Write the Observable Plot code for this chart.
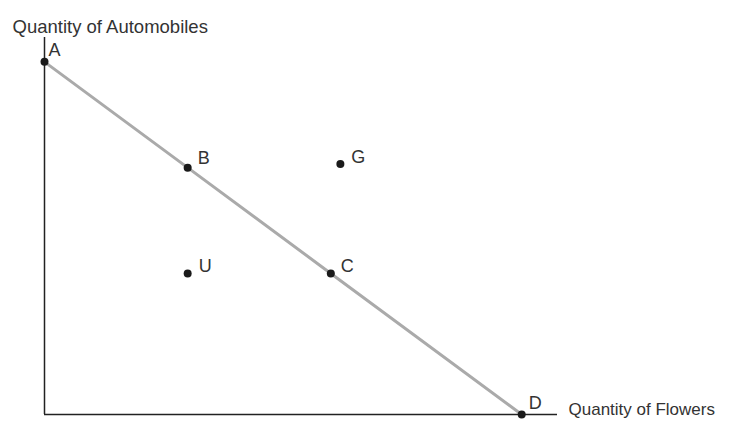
<!DOCTYPE html>
<html>
<head>
<meta charset="utf-8">
<script src="https://cdn.jsdelivr.net/npm/d3@7"></script>
<script src="https://cdn.jsdelivr.net/npm/@observablehq/plot@0.6"></script>
<style>
  html, body { margin: 0; padding: 0; background: #fff; }
  #chart svg { display: block; }
</style>
</head>
<body>
<div id="chart"></div>
<script>
// Production possibilities frontier points (abstract units)
const frontierLabels = ["A", "B", "C", "D"];
const frontierX = [0, 30, 60, 100];     // Quantity of Flowers
const frontierY = [100, 70, 40, 0];     // Quantity of Automobiles

const otherLabels = ["G", "U"];
const otherX = [62, 30];
const otherY = [71, 40];

const xTitle = "Quantity of Flowers";
const yTitle = "Quantity of Automobiles";

const frontier = frontierLabels.map((l, i) => ({label: l, x: frontierX[i], y: frontierY[i]}));
const others = otherLabels.map((l, i) => ({label: l, x: otherX[i], y: otherY[i]}));
const allPts = frontier.concat(others);

// label offsets (style only)
const off = {A: [4, -12], B: [10, -9], C: [10, -7], D: [7, -11], G: [11, -7], U: [11, -7]};

const font = "'Liberation Sans', Arial, Helvetica, sans-serif";
const ink = "#222";

const chart = Plot.plot({
  width: 729,
  height: 424,
  marginLeft: 44,
  marginRight: 172,
  marginTop: 37,
  marginBottom: 10,
  x: {domain: [0, 107.5], axis: null},
  y: {domain: [0, 106.9], axis: null},
  style: {fontFamily: font, background: "#fff"},
  marks: [
    Plot.line(frontier, {x: "x", y: "y", stroke: "#aaaaaa", strokeWidth: 3}),
    Plot.ruleX([0], {stroke: ink, strokeWidth: 1.5}),
    Plot.ruleY([0], {stroke: ink, strokeWidth: 1.5}),
    Plot.dot(allPts, {x: "x", y: "y", r: 4, fill: "#1a1a1a", stroke: "none"}),
    ...allPts.map(p => Plot.text([p], {
      x: "x", y: "y", text: "label",
      dx: off[p.label][0], dy: off[p.label][1],
      textAnchor: "start", fontSize: 18, fill: "#333"
    })),
    Plot.text([yTitle], {frameAnchor: "top-left", dx: -32, dy: -18, textAnchor: "start", fontSize: 18.5, fill: "#333"}),
    Plot.text([xTitle], {frameAnchor: "bottom-right", dx: 11, dy: 0, textAnchor: "start", fontSize: 17, fill: "#333"})
  ]
});
document.getElementById("chart").appendChild(chart);
</script>
</body>
</html>
